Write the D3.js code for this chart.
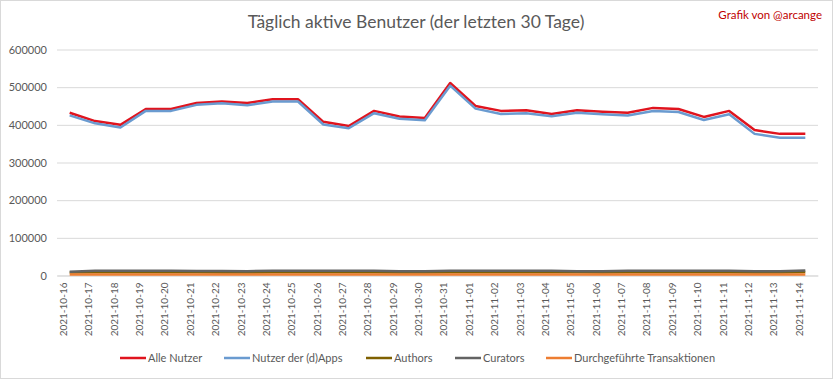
<!DOCTYPE html>
<html><head><meta charset="utf-8">
<script src="https://cdn.jsdelivr.net/npm/d3@7"></script>
<style>body{margin:0;background:#fff;}svg{display:block;font-family:Lato,"Open Sans",sans-serif;}</style>
</head><body><svg id="c" width="833" height="379"></svg>
<script>
const dates = ["2021-10-16","2021-10-17","2021-10-18","2021-10-19","2021-10-20","2021-10-21","2021-10-22","2021-10-23","2021-10-24","2021-10-25","2021-10-26","2021-10-27","2021-10-28","2021-10-29","2021-10-30","2021-10-31","2021-11-01","2021-11-02","2021-11-03","2021-11-04","2021-11-05","2021-11-06","2021-11-07","2021-11-08","2021-11-09","2021-11-10","2021-11-11","2021-11-12","2021-11-13","2021-11-14"];
const alleNutzer = [432000,410000,400000,442000,442000,458000,462000,458000,468000,468000,408000,397000,437000,422000,418000,511000,450000,437000,439000,429000,439000,435000,432000,445000,442000,421000,437000,386000,376000,376000];
const dappsNutzer = [425000,404000,393000,437000,437000,453000,457000,452000,462000,462000,401000,391000,431000,416000,412000,504000,443000,429000,431000,423000,432000,428000,425000,437000,434000,413000,428000,376000,366000,366000];
const authors = [8000,8500,8500,8500,8500,8500,8000,8000,8500,8500,8500,8500,8500,8000,8000,8500,8500,8500,8500,8500,8500,8000,8500,8500,8500,8500,8500,8000,8000,9000];
const curators = [10000,12500,12500,12500,12500,12000,12000,11500,12500,12500,12500,12500,12500,11500,11500,12500,12500,12500,12500,12500,11500,11500,12500,12500,12500,12500,12500,11500,11500,13000];
const transaktionen = [2500,2800,2800,2800,2800,2800,2800,2800,2800,2800,2800,2800,2800,2800,2800,2800,2800,2800,2800,2800,2800,2800,2800,2800,2800,2800,2800,2800,2800,2800];
const yTicks = [0,100000,200000,300000,400000,500000,600000];
const seriesNames = ["Alle Nutzer","Nutzer der (d)Apps","Authors","Curators","Durchgeführte Transaktionen"];
const seriesColors = ["#e0141e","#6a9bd0","#7f6000","#636363","#ed7d31"];

const svg = d3.select("#c");
svg.append("rect").attr("x",0.5).attr("y",0.5).attr("width",832).attr("height",378).attr("fill","#fff").attr("stroke","#d9d9d9");

const x = d3.scalePoint().domain(dates).range([57,818]).padding(0.5);
const y = d3.scaleLinear().domain([0,600000]).range([275.5,49.5]);

svg.append("text").attr("x",416).attr("y",28).attr("text-anchor","middle").attr("font-size",17.5).attr("fill","#595959").text("Täglich aktive Benutzer (der letzten 30 Tage)");
svg.append("text").attr("x",822).attr("y",19).attr("text-anchor","end").attr("font-size",11.5).attr("fill","#c00000").text("Grafik von @arcange");

const yAxis = d3.axisLeft(y).tickValues(yTicks).tickSize(-761).tickFormat(d3.format("d"));
const gy = svg.append("g").attr("transform","translate(57,0)").call(yAxis);
gy.select(".domain").remove();
gy.selectAll(".tick line").attr("stroke","#d9d9d9").attr("stroke-width",1);
gy.selectAll(".tick text").attr("x",-10).attr("font-size",11).attr("fill","#595959").attr("font-family","Lato,'Open Sans',sans-serif");

const xAxis = d3.axisBottom(x).tickSize(0);
const gx = svg.append("g").attr("transform","translate(0,275.5)").call(xAxis);
gx.select(".domain").attr("stroke","#d9d9d9");
gx.selectAll(".tick text").attr("transform","rotate(-90)").attr("text-anchor","end").attr("dx","-7").attr("dy","-0.32em").attr("y",0).attr("x",0)
  .attr("font-size",10).attr("fill","#595959").attr("font-family","Lato,'Open Sans',sans-serif");

const allSeries = [alleNutzer,dappsNutzer,authors,curators,transaktionen];
const line = d3.line().x((d,i)=>x(dates[i])).y(d=>y(d));
allSeries.forEach((s,k)=>{
  svg.append("path").datum(s).attr("d",line).attr("fill","none").attr("stroke",seriesColors[k]).attr("stroke-width",2.5).attr("stroke-linejoin","round");
});

const legX = [120,224,366,455,546];
const lg = svg.append("g");
seriesNames.forEach((n,k)=>{
  lg.append("line").attr("x1",legX[k]).attr("x2",legX[k]+26).attr("y1",358).attr("y2",358).attr("stroke",seriesColors[k]).attr("stroke-width",2.5);
  lg.append("text").attr("x",legX[k]+28).attr("y",362).attr("font-size",11).attr("fill","#595959").text(n);
});
</script></body></html>
